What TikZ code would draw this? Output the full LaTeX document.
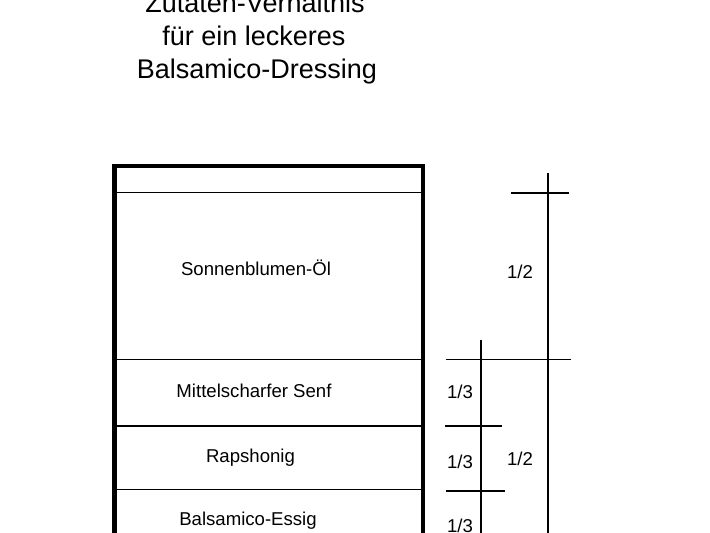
\documentclass[tikz,border=0pt]{standalone}
\usepackage{fontspec}
\setmainfont{Liberation Sans}
\begin{document}
\begin{tikzpicture}[x=1pt,y=-1pt,
  thick box/.style={line width=4.5pt, line cap=rect},
  thin line/.style={line width=1.1pt},
  title text/.style={anchor=base, inner sep=0pt, font=\fontsize{27}{32}\selectfont},
  label text/.style={anchor=base, inner sep=0pt, font=\fontsize{18.6}{22}\selectfont}]
\useasboundingbox (0,0) rectangle (710,533);
\clip (0,0) rectangle (710,533);
% title
\node[title text] (t1) at (255,12) {Zutaten-Verhältnis};
\node[title text] (t2) at (254,45) {für ein leckeres};
\node[title text] (t3) at (257,78) {Balsamico-Dressing};
% container
\draw[thick box] (114.5,560) -- (114.5,166) -- (423,166) -- (423,560);
\coordinate (l0) at (114.5,192.5); \coordinate (r0) at (423,192.5);
\coordinate (l1) at (114.5,359.3); \coordinate (r1) at (423,359.3);
\coordinate (l2) at (114.5,426);   \coordinate (r2) at (423,426);
\coordinate (l3) at (114.5,489.5); \coordinate (r3) at (423,489.5);
\draw[thin line] (l0) -- (r0);
\draw[thin line] (l1) -- (r1);
\draw[thin line] (l2) -- (r2);
\draw[thin line] (l3) -- (r3);
% ingredient labels
\node[label text] (oel) at (256,275) {Sonnenblumen-Öl};
\node[label text] (senf) at (254,397) {Mittelscharfer Senf};
\node[label text] (honig) at (250.5,462) {Rapshonig};
\node[label text] (essig) at (248,525) {Balsamico-Essig};
% dimension lines
\coordinate (bigtop) at (548,173);
\coordinate (bigbot) at (548,560);
\draw[thin line] (bigtop) -- (bigbot);
\coordinate (h0a) at (511,193); \coordinate (h0b) at (569,193);
\draw[thin line] (h0a) -- (h0b);
\coordinate (h1a) at (446,359.3); \coordinate (h1b) at (571,359.3);
\draw[thin line] (h1a) -- (h1b);
\coordinate (smalltop) at (481,340);
\coordinate (smallbot) at (481,560);
\draw[thin line] (smalltop) -- (smallbot);
\coordinate (h2a) at (445,426); \coordinate (h2b) at (502,426);
\draw[thin line] (h2a) -- (h2b);
\coordinate (h3a) at (446,491); \coordinate (h3b) at (505,491);
\draw[thin line] (h3a) -- (h3b);
% fraction labels
\node[label text] (half1) at (520,278) {1/2};
\node[label text] (half2) at (520,465) {1/2};
\node[label text] (third1) at (460,398) {1/3};
\node[label text] (third2) at (460,468) {1/3};
\node[label text] (third3) at (460,532) {1/3};
\end{tikzpicture}
\end{document}
